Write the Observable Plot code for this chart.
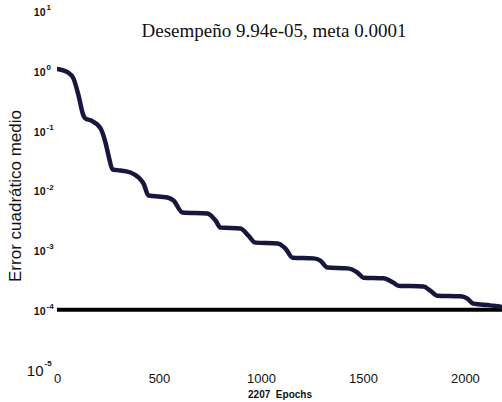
<!DOCTYPE html>
<html>
<head>
<meta charset="utf-8">
<script src="https://cdn.jsdelivr.net/npm/d3@7"></script>
<script src="https://cdn.jsdelivr.net/npm/@observablehq/plot@0.6"></script>
<style>
  html, body { margin: 0; padding: 0; background: #fff; }
</style>
</head>
<body>
<div id="chart"></div>
<script>
// Training record: mean squared error per epoch
const epochs = [0, 49, 78, 103, 127, 137, 162, 211, 235, 250, 270, 294, 358, 397, 422, 446,
  539, 569, 613, 735, 775, 799, 897, 936, 971, 1078, 1118, 1152, 1255, 1289, 1324, 1422,
  1471, 1500, 1598, 1647, 1672, 1794, 1828, 1863, 1975, 2010, 2039, 2123, 2172, 2207];
const mse = [1.05, 0.93, 0.734, 0.382, 0.177, 0.157, 0.146, 0.107, 0.0624, 0.0378, 0.0220, 0.0215,
  0.0196, 0.0162, 0.0128, 0.0081, 0.0075, 0.00667, 0.00420, 0.00404, 0.00309, 0.00236, 0.00227,
  0.00173, 0.00132, 0.00128, 0.00105, 0.00074, 0.00072, 0.00066, 0.000505, 0.00049, 0.000416,
  0.000343, 0.000335, 0.000283, 0.000252, 0.000243, 0.000208, 0.000171, 0.000167, 0.000153,
  0.000126, 0.000118, 0.000112, 0.0000994];

const goal = 0.0001;
const performance = 9.94e-5;
const totalEpochs = 2207;

const xTicks = [0, 500, 1000, 1500, 2000];
const yTicks = [10, 1, 0.1, 0.01, 0.001, 0.0001];
const yTickBottom = [0.00001];

const titleText = "Desempeño 9.94e-05, meta 0.0001";
const yLabel = "Error cuadrático medio";
const xLabel = "2207  Epochs";

const exponent = v => String(Math.round(Math.log10(v)));

const data = epochs.map((e, i) => ({epoch: e, mse: mse[i]}));

// power-of-ten labels: base "10" plus a raised exponent
const powerLabel = (ticks, baseSize, baseWeight, gap, expDy) => [
  Plot.text(ticks, {y: d => d, frameAnchor: "left", textAnchor: "end", dx: -gap, dy: 2,
    text: () => "10", fontSize: baseSize, fontWeight: baseWeight, fill: "#111"}),
  Plot.text(ticks, {y: d => d, frameAnchor: "left", textAnchor: "start", dx: -gap + 1, dy: expDy,
    text: exponent, fontSize: 8, fontWeight: "bold", fill: "#111"})
];

const chart = Plot.plot({
  width: 502,
  height: 402,
  marginLeft: 57,
  marginRight: 0,
  marginTop: 10,
  marginBottom: 33,
  style: {background: "#fff", fontFamily: "'Liberation Sans', Arial, sans-serif"},
  x: {domain: [0, 2182], axis: null},
  y: {type: "log", domain: [0.00001, 10], axis: null},
  marks: [
    Plot.ruleY([goal], {stroke: "#000", strokeWidth: 4}),
    Plot.line(data, {x: "epoch", y: "mse", stroke: "#16163e", strokeWidth: 4.5,
      curve: "monotone-x", clip: true}),
    // y tick labels
    ...powerLabel(yTicks, 10.5, "bold", 12, -3),
    ...powerLabel(yTickBottom, 15, "normal", 14, -6),
    // x tick labels
    Plot.text(xTicks, {x: d => d, frameAnchor: "bottom", lineAnchor: "top", dy: 4,
      text: d => String(d), fontSize: 13, fill: "#111", style: "letter-spacing:-1px"}),
    // axis titles
    Plot.text([xLabel], {frameAnchor: "bottom", lineAnchor: "top", dy: 21, text: d => d,
      fontSize: 10, fontWeight: "bold", fill: "#111", style: "letter-spacing:0.8px"}),
    Plot.text([yLabel], {frameAnchor: "left", textAnchor: "middle", rotate: -90, dx: -42, dy: 6,
      text: d => d, fontSize: 17, fill: "#111"}),
    Plot.text([titleText], {frameAnchor: "top", lineAnchor: "middle", dx: -6, dy: 20, text: d => d,
      fontSize: 19, fontFamily: "'Liberation Serif', 'Times New Roman', serif", fill: "#111"})
  ]
});
document.getElementById("chart").appendChild(chart);
</script>
</body>
</html>
